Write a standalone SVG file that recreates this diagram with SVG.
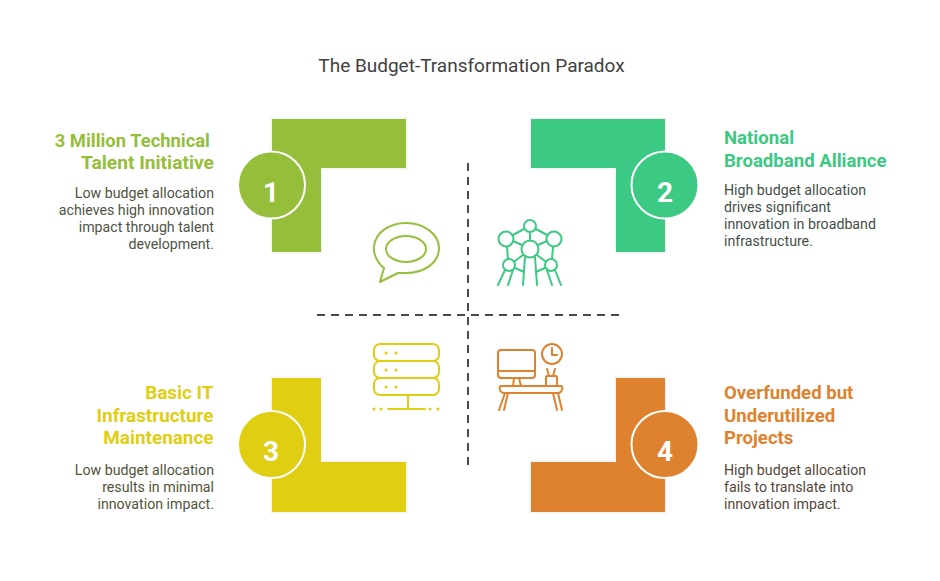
<svg xmlns="http://www.w3.org/2000/svg" width="940" height="581" viewBox="0 0 940 581">
<style>
text{font-family:Roboto,"Liberation Sans",sans-serif}
.title{font-size:19px;fill:#3f3f3f}
.h{font-size:18.600px;font-weight:700}
.b{font-size:14.200px}
.e{text-anchor:end}
.n{font-size:28px;font-weight:700;fill:#fff;text-anchor:middle}
.blk{stroke:#f5f5f5;stroke-width:3.500;paint-order:stroke}
.c{stroke:#fff;stroke-width:2}
.i{fill:none;stroke-width:2;stroke-linecap:round;stroke-linejoin:round}
.d{stroke:#4a4a4a;stroke-width:2;stroke-dasharray:8 6;fill:none}
</style>
<rect width="940" height="581" fill="#fff"/>
<text class="title" x="471.500" y="72" text-anchor="middle">The Budget-Transformation Paradox</text>
<g id="connectors">
<line class="d" x1="468" y1="163" x2="468" y2="468"/>
<line class="d" x1="317" y1="315" x2="620" y2="315"/>
</g>
<g id="node1">
<path class="blk" fill="#95BE3A" d="M272 119H406V168H321V252H272Z"/>
<circle class="c" fill="#95BE3A" cx="271.500" cy="185" r="33.500"/>
<text class="n" x="271" y="202">1</text>
<text class="h e" y="147" fill="#95BE3A"><tspan x="210" style="font-size:18.400px">3 Million Technical</tspan><tspan x="214" dy="22" style="font-size:19.200px">Talent Initiative</tspan></text>
<text class="b e" y="198" fill="#50533f"><tspan x="214">Low budget allocation</tspan><tspan x="214" dy="17">achieves high innovation</tspan><tspan x="214" dy="17">impact through talent</tspan><tspan x="214" dy="17">development.</tspan></text>
<g class="i" stroke="#95BE3A">
<path d="M384 268C374 260 373.500 250 374 246C376 231 391 223 406 223C425 223 439 235 439 248C439 263 424 273 406 273C402 273 399 273 398 273L380 282Z"/>
<ellipse cx="406" cy="249" rx="20" ry="13"/>
</g>
</g>
<g id="node2">
<path class="blk" fill="#3CC983" d="M531 119H665V252H616V168H531Z"/>
<circle class="c" fill="#3CC983" cx="665" cy="185" r="33.500"/>
<text class="n" x="665" y="202">2</text>
<text class="h" y="144" fill="#3CC983"><tspan x="724">National</tspan><tspan x="724" dy="23">Broadband Alliance</tspan></text>
<text class="b" y="195" fill="#3f4f48"><tspan x="724">High budget allocation</tspan><tspan x="724" dy="17">drives significant</tspan><tspan x="724" dy="17">innovation in broadband</tspan><tspan x="724" dy="17">infrastructure.</tspan></text>
<g class="i" stroke="#3CC983">
<circle cx="530" cy="226" r="6"/><circle cx="506" cy="239" r="7.500"/><circle cx="554" cy="239" r="7.500"/><circle cx="530" cy="249" r="8.500"/><circle cx="509" cy="265" r="6"/><circle cx="551" cy="265" r="6"/>
<path d="M524 229L513 235M536 229L547 235M530 232V241M513 241L522 245M547 241L538 245M507 247L508 259M553 247L552 259M515 261L523 255M545 261L537 255M515 268L524 272M545 268L536 272M525 257L523 285M535 257L537 285M505 270L498 285M513 270L508 285M547 270L552 285M555 270L561 285"/>
</g>
</g>
<g id="node3">
<path class="blk" fill="#E0CE12" d="M272 378H321V462H406V512H272Z"/>
<circle class="c" fill="#E0CE12" cx="271.500" cy="444.500" r="33.500"/>
<text class="n" x="271" y="461">3</text>
<text class="h e" y="399" fill="#E0CE12" style="font-size:18.900px"><tspan x="213.500">Basic IT</tspan><tspan x="213.500" dy="22.500">Infrastructure</tspan><tspan x="213.500" dy="22.500">Maintenance</tspan></text>
<text class="b e" y="475" fill="#55523a"><tspan x="214">Low budget allocation</tspan><tspan x="214" dy="17">results in minimal</tspan><tspan x="214" dy="17">innovation impact.</tspan></text>
<g class="i" stroke="#E0CE12">
<rect x="374" y="344" width="65" height="17" rx="6"/><rect x="374" y="361" width="65" height="17" rx="6"/><rect x="374" y="378" width="65" height="17" rx="6"/>
<path d="M408 395V409M388 409H425"/>
<path stroke-width="3" d="M386 353h.1M396 353h.1M386 370h.1M396 370h.1M386 387h.1M396 387h.1M374 409h.1M381 409h.1M430 409h.1M438 409h.1"/>
</g>
</g>
<g id="node4">
<path class="blk" fill="#DF8230" d="M531 462H616V378H665V512H531Z"/>
<circle class="c" fill="#DF8230" cx="665" cy="444.500" r="33.500"/>
<text class="n" x="665" y="461">4</text>
<text class="h" y="399" fill="#DF8230"><tspan x="724">Overfunded but</tspan><tspan x="724" dy="22.500">Underutilized</tspan><tspan x="724" dy="22.500">Projects</tspan></text>
<text class="b" y="475" fill="#55463a"><tspan x="724">High budget allocation</tspan><tspan x="724" dy="17">fails to translate into</tspan><tspan x="724" dy="17">innovation impact.</tspan></text>
<g class="i" stroke="#DF8230">
<rect x="498" y="350" width="37" height="28" rx="3"/>
<path d="M498 371H535M514 378L513 386M519 378L521 386"/>
<circle cx="552" cy="354" r="10"/><path d="M552 348V355H557"/>
<rect x="546" y="376" width="11" height="10" rx="1"/><path d="M549 376L547 369M553 376L555 369"/>
<path d="M501 386H561Q563 386 562 390Q561 393 558 393H504Q501 393 500 390Q499 386 501 386Z"/>
<path d="M505 393L499 410M508 393L504 410M553 393L557 410M558 393L562 410"/>
</g>
</g>
</svg>
